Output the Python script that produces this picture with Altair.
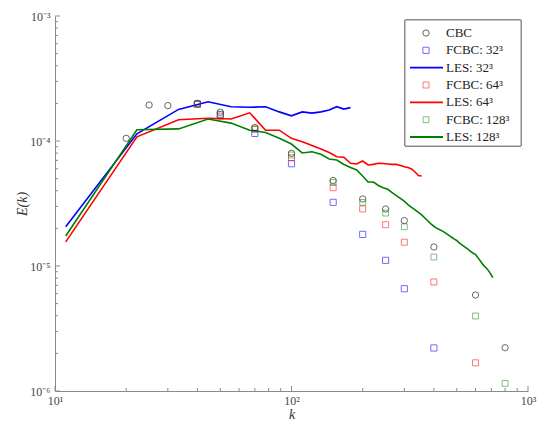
import altair as alt
import pandas as pd

# ---------------- data ----------------
series_names = ["CBC", "FCBC: 32³", "LES: 32³", "FCBC: 64³", "LES: 64³", "FCBC: 128³", "LES: 128³"]
series_colors = ["#000000", "#0000ff", "#0000ff", "#ff0000", "#ff0000", "#008000", "#008000"]
marker_names = ["CBC", "FCBC: 32³", "FCBC: 64³", "FCBC: 128³"]
marker_shapes = ["circle", "square", "square", "square"]
marker_opacity = [0.6, 0.5, 0.5, 0.5]
marker_size = [40, 34, 34, 34]
line_names = ["LES: 32³", "LES: 64³", "LES: 128³"]

k_cbc = [20, 25, 30, 40, 50, 70, 100, 150, 200, 250, 300, 400, 600, 800]
e_cbc = [1.05e-4, 1.94e-4, 1.92e-4, 2.00e-4, 1.70e-4, 1.28e-4, 7.97e-5, 4.83e-5,
         3.44e-5, 2.86e-5, 2.31e-5, 1.42e-5, 5.86e-6, 2.22e-6]

k_fcbc32 = [40, 50, 70, 100, 150, 200, 250, 300, 400]
e_fcbc32 = [1.98e-4, 1.62e-4, 1.15e-4, 6.58e-5, 3.23e-5, 1.79e-5, 1.11e-5, 6.58e-6, 2.21e-6]

k_fcbc64 = [40, 50, 70, 100, 150, 200, 250, 300, 400, 600]
e_fcbc64 = [1.96e-4, 1.58e-4, 1.25e-4, 7.35e-5, 4.23e-5, 2.86e-5, 2.14e-5, 1.55e-5, 7.45e-6, 1.68e-6]

k_fcbc128 = [40, 50, 70, 100, 150, 200, 250, 300, 400, 600, 800]
e_fcbc128 = [1.98e-4, 1.64e-4, 1.24e-4, 7.73e-5, 4.66e-5, 3.23e-5, 2.65e-5, 2.06e-5,
             1.18e-5, 3.98e-6, 1.15e-6]

k_les = [11.1, 22.2, 33.3, 44.4, 55.5, 66.6, 77.7, 88.8, 99.9, 111.0,
         122.1, 133.2, 144.3, 155.4, 166.5, 177.6, 188.7, 199.8, 210.9, 222.0,
         233.1, 244.2, 255.3, 266.4, 277.5, 288.6, 299.7, 310.8, 321.9, 333.0,
         344.1, 355.2, 366.3, 377.4, 388.5, 399.6, 410.7, 421.8, 432.9, 444.0,
         455.1, 466.2, 477.3, 488.4, 499.5, 510.6, 521.7, 532.8, 543.9, 555.0,
         566.1, 577.2, 588.3, 599.4, 610.5, 621.6, 632.7, 643.8, 654.9, 666.0,
         677.1, 688.2, 699.3, 710.4]

e_les32 = [2.06e-5, 1.14e-4, 1.79e-4, 2.06e-4, 1.88e-4, 1.86e-4, 1.88e-4, 1.71e-4,
           1.59e-4, 1.71e-4, 1.67e-4, 1.71e-4, 1.77e-4, 1.88e-4, 1.80e-4, 1.85e-4]

e_les64 = [1.56e-5, 1.08e-4, 1.48e-4, 1.52e-4, 1.50e-4, 1.68e-4, 1.22e-4, 1.22e-4,
           1.05e-4, 9.87e-5, 9.20e-5, 8.63e-5, 8.09e-5, 7.49e-5, 7.41e-5, 6.63e-5,
           6.55e-5, 6.92e-5, 6.43e-5, 6.50e-5, 6.63e-5, 6.60e-5, 6.55e-5, 6.50e-5,
           6.50e-5, 6.37e-5, 6.22e-5, 6.14e-5, 5.97e-5, 5.65e-5, 5.30e-5, 5.25e-5]

e_les128 = [1.74e-5, 1.23e-4, 1.25e-4, 1.50e-4, 1.39e-4, 1.22e-4, 1.17e-4, 1.05e-4,
            9.46e-5, 8.02e-5, 8.21e-5, 7.84e-5, 7.18e-5, 7.05e-5, 6.49e-5, 6.14e-5,
            5.86e-5, 5.25e-5, 4.70e-5, 4.70e-5, 4.41e-5, 4.23e-5, 4.11e-5, 3.87e-5,
            3.66e-5, 3.47e-5, 3.30e-5, 3.10e-5, 2.94e-5, 2.81e-5, 2.68e-5, 2.56e-5,
            2.42e-5, 2.29e-5, 2.17e-5, 2.08e-5, 2.01e-5, 1.96e-5, 1.91e-5, 1.86e-5,
            1.80e-5, 1.74e-5, 1.69e-5, 1.64e-5, 1.60e-5, 1.54e-5, 1.49e-5, 1.45e-5,
            1.41e-5, 1.37e-5, 1.33e-5, 1.29e-5, 1.26e-5, 1.24e-5, 1.18e-5, 1.13e-5,
            1.08e-5, 1.03e-5, 9.94e-6, 9.64e-6, 9.29e-6, 8.90e-6, 8.47e-6, 8.06e-6]

x_major_ticks = [10, 100, 1000]
x_minor_ticks = [20, 30, 40, 50, 60, 70, 80, 90, 200, 300, 400, 500, 600, 700, 800, 900]
y_major_ticks = [1e-6, 1e-5, 1e-4, 1e-3]
y_minor_ticks = [2e-6, 3e-6, 4e-6, 5e-6, 6e-6, 7e-6, 8e-6, 9e-6,
                 2e-5, 3e-5, 4e-5, 5e-5, 6e-5, 7e-5, 8e-5, 9e-5,
                 2e-4, 3e-4, 4e-4, 5e-4, 6e-4, 7e-4, 8e-4, 9e-4]

# ---------------- tables ----------------
pt_rows = []
for name, ks, es in [("CBC", k_cbc, e_cbc), ("FCBC: 32³", k_fcbc32, e_fcbc32),
                     ("FCBC: 64³", k_fcbc64, e_fcbc64), ("FCBC: 128³", k_fcbc128, e_fcbc128)]:
    pt_rows += [{"series": name, "k": k, "E": e} for k, e in zip(ks, es)]
pts = pd.DataFrame(pt_rows)

ln_rows = []
for name, es in [("LES: 32³", e_les32), ("LES: 64³", e_les64), ("LES: 128³", e_les128)]:
    ln_rows += [{"series": name, "k": k, "E": e} for k, e in zip(k_les[:len(es)], es)]
lns = pd.DataFrame(ln_rows)

leg_all = pd.DataFrame({"series": series_names})
leg_markers = pd.DataFrame({"series": marker_names})
leg_lines = pd.DataFrame({"series": line_names})

FONT = "Liberation Serif"
W, H = 473, 375
AX = "#8a8a8a"

xscale = alt.Scale(type="log", domain=[10, 1000], nice=False)
yscale = alt.Scale(type="log", domain=[1e-6, 1e-3], nice=False)
leg_y = alt.Scale(type="point", domain=series_names, range=[17, 121], padding=0)

xaxis = alt.Axis(values=x_major_ticks, ticks=False, grid=False, domainColor=AX,
                 labelExpr="datum.value < 50 ? '10¹' : datum.value < 500 ? '10²' : '10³'",
                 labelFont=FONT, labelFontSize=12, labelColor="#444", labelPadding=4,
                 title="k", titleFont=FONT, titleFontStyle="italic", titleFontWeight="normal",
                 titleFontSize=14, titleColor="#333", titlePadding=1, labelFlush=False)
yaxis = alt.Axis(values=y_major_ticks, ticks=False, grid=False, domainColor=AX,
                 labelExpr="datum.value > 5e-4 ? '10⁻³' : datum.value > 5e-5 ? '10⁻⁴' : datum.value > 5e-6 ? '10⁻⁵' : '10⁻⁶'",
                 labelFont=FONT, labelFontSize=12, labelColor="#444", labelPadding=5,
                 title="E(k)", titleFont=FONT, titleFontStyle="italic", titleFontWeight="normal",
                 titleFontSize=14, titleColor="#333", titlePadding=0, labelFlush=False)

color_enc = alt.Color("series:N", legend=None,
                      scale=alt.Scale(domain=series_names, range=series_colors))
shape_enc = alt.Shape("series:N", legend=None,
                      scale=alt.Scale(domain=marker_names, range=marker_shapes))
opac_enc = alt.Opacity("series:N", legend=None,
                       scale=alt.Scale(domain=marker_names, range=marker_opacity))
size_enc = alt.Size("series:N", legend=None,
                    scale=alt.Scale(domain=marker_names, range=marker_size))

lines = alt.Chart(lns).mark_line(strokeWidth=1.6).encode(
    x=alt.X("k:Q", scale=xscale, axis=xaxis),
    y=alt.Y("E:Q", scale=yscale, axis=yaxis),
    color=color_enc,
)

points = alt.Chart(pts).mark_point(filled=False, strokeWidth=1).encode(
    x=alt.X("k:Q", scale=xscale),
    y=alt.Y("E:Q", scale=yscale, axis=None),
    color=color_enc, shape=shape_enc, opacity=opac_enc, size=size_enc,
)

xmaj = alt.Chart(pd.DataFrame({"v": x_major_ticks})).mark_rule(color=AX).encode(
    x=alt.X("v:Q", scale=xscale), y=alt.value(H), y2=alt.value(H - 5))
xmin = alt.Chart(pd.DataFrame({"v": x_minor_ticks})).mark_rule(color=AX).encode(
    x=alt.X("v:Q", scale=xscale), y=alt.value(H), y2=alt.value(H - 3))
ymaj = alt.Chart(pd.DataFrame({"v": y_major_ticks})).mark_rule(color=AX).encode(
    y=alt.Y("v:Q", scale=yscale, axis=None), x=alt.value(0), x2=alt.value(5))
ymin = alt.Chart(pd.DataFrame({"v": y_minor_ticks})).mark_rule(color=AX).encode(
    y=alt.Y("v:Q", scale=yscale, axis=None), x=alt.value(0), x2=alt.value(3))

# ---------------- legend (inside plot, top right) ----------------
leg_box = alt.Chart(leg_all).mark_rect(fill="white", stroke="#8a8a8a", strokeWidth=1).encode(
    x=alt.value(350), x2=alt.value(466), y=alt.value(4), y2=alt.value(130))
leg_sym = alt.Chart(leg_markers).mark_point(filled=False, strokeWidth=1).encode(
    x=alt.value(371), y=alt.Y("series:N", scale=leg_y, axis=None),
    color=color_enc, shape=shape_enc, opacity=opac_enc, size=size_enc)
leg_ln = alt.Chart(leg_lines).mark_rule(strokeWidth=1.8).encode(
    x=alt.value(355), x2=alt.value(388), y=alt.Y("series:N", scale=leg_y, axis=None),
    color=color_enc)
leg_txt = alt.Chart(leg_all).mark_text(align="left", baseline="middle", font=FONT,
                                       fontSize=13, color="#222").encode(
    x=alt.value(391), y=alt.Y("series:N", scale=leg_y, axis=None), text="series:N")

chart = alt.layer(xmin, xmaj, ymin, ymaj, lines, points,
                  leg_box, leg_sym, leg_ln, leg_txt).resolve_scale(
    y="independent"
).properties(
    width=W, height=H,
    padding={"left": 55, "top": 16, "right": 9, "bottom": 32},
    autosize=alt.AutoSizeParams(type="none"),
).configure_view(strokeWidth=0)

chart.save("out.html", embed_options={"renderer": "svg", "actions": False})
